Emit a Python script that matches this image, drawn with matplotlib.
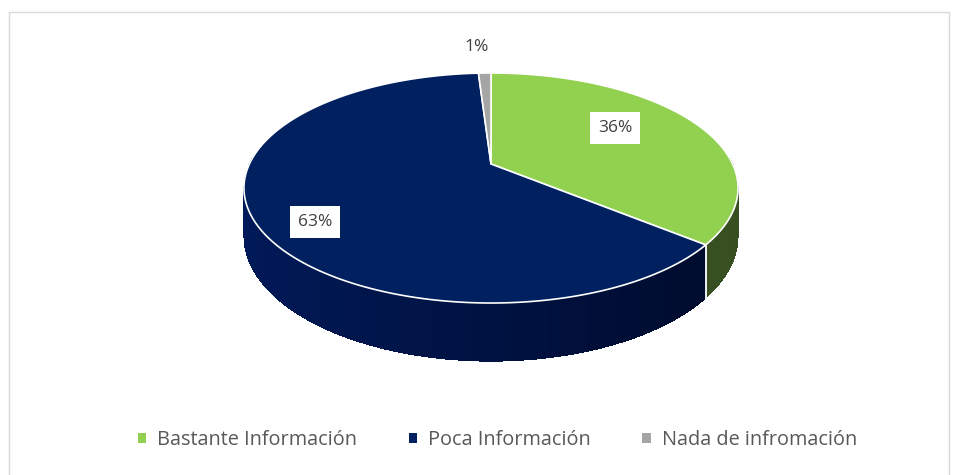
import numpy as np
import matplotlib.pyplot as plt
from matplotlib.patches import Polygon, Rectangle, Patch
from matplotlib.colors import to_rgb

plt.rcParams['font.family'] = ['Open Sans', 'DejaVu Sans']

# data
categories = ['Bastante Información', 'Poca Información', 'Nada de infromación']
values = [36, 63, 1]
top_colors = ['#92D050', '#002060', '#A5A5A5']
side_left = ['#46602D', '#001A5A', '#8A8A8A']
side_right = ['#364E20', '#000A28', '#707070']
label_pos = [(615, 128), (315, 222), (477, 47)]
label_box = [True, True, False]

# perspective pie geometry (pixel space, y down)
cx, cy = 491, 164
A, B, k = 241.6, 110.0, 0.2087
d0 = 46.0


def pt(t, drop=0.0):
    u, w = np.cos(t), -np.sin(t)
    s = 1.0 / (1 - k * w)
    return cx + A * u * s, cy + B * w * s + drop * s


fig = plt.figure(figsize=(9.6, 4.75), dpi=100)
ax = fig.add_axes([0, 0, 1, 1])
ax.set_xlim(0, 960)
ax.set_ylim(475, 0)
ax.axis('off')

ax.add_patch(Rectangle((9, 12), 940, 470, fill=False, edgecolor='#D9D9D9', lw=1))

fracs = np.array(values) / sum(values)
starts = np.pi / 2 - 2 * np.pi * np.concatenate([[0], np.cumsum(fracs)[:-1]])
ends = starts - 2 * np.pi * fracs

# side walls (front half only)
for i in range(len(values)):
    ts = np.linspace(starts[i], ends[i], 600)
    ts = ts[np.sin(ts) <= 0.05]
    if len(ts) < 2:
        continue
    x, y = pt(ts)
    xb, yb = pt(ts, d0)
    base = np.column_stack([np.concatenate([x, xb[::-1]]), np.concatenate([y, yb[::-1]])])
    c1, c2 = np.array(to_rgb(side_left[i])), np.array(to_rgb(side_right[i]))
    ax.add_patch(Polygon(base, closed=True, facecolor=c1, edgecolor='none'))
    for j in range(0, len(ts) - 1, 3):
        seg = ts[j:j + 4]
        sx, sy = pt(seg)
        bx, by = pt(seg, d0)
        w = (np.cos(seg.mean()) + 1) / 2
        col = c1 * (1 - w) + c2 * w
        poly = np.column_stack([np.concatenate([sx, bx[::-1]]), np.concatenate([sy, by[::-1]])])
        ax.add_patch(Polygon(poly, closed=True, facecolor=col, edgecolor='none',
                             antialiased=False))
    for t in (starts[i], ends[i]):
        if np.sin(t) < 0:
            tx, ty = pt(t)
            bx, by = pt(t, d0)
            ax.plot([tx, bx], [ty, by], color='white', lw=1.2, alpha=0.85)

# top faces
for i in range(len(values)):
    ts = np.linspace(starts[i], ends[i], 400)
    x, y = pt(ts)
    poly = np.column_stack([np.concatenate([[cx], x]), np.concatenate([[cy], y])])
    ax.add_patch(Polygon(poly, closed=True, facecolor=top_colors[i],
                         edgecolor='white', lw=1.2, joinstyle='round'))

# labels
for i in range(len(values)):
    x, y = label_pos[i]
    bbox = dict(boxstyle='square,pad=0.45', facecolor='white', edgecolor='none') if label_box[i] else None
    ax.text(x, y, f'{values[i]}%', ha='center', va='center', fontsize=12.5,
            color='#404040', bbox=bbox)

handles = [Patch(facecolor=c, edgecolor='none') for c in top_colors]
ax.legend(handles, categories, loc='center', bbox_to_anchor=(0.518, 1 - 440 / 475),
          ncol=3, frameon=False, fontsize=14.3, handlelength=0.42, handleheight=0.42,
          handletextpad=0.55, columnspacing=2.6, labelcolor='#595959')

fig.savefig('out.png', dpi=100)
